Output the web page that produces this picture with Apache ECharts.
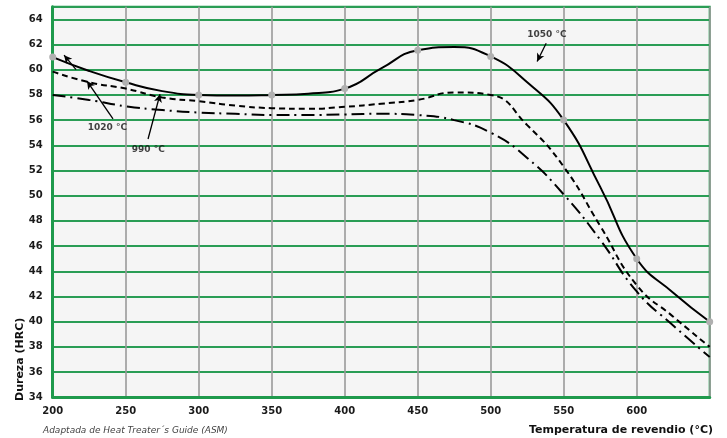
<!DOCTYPE html>
<html>
<head>
<meta charset="utf-8">
<script src="https://cdn.jsdelivr.net/npm/echarts@6/dist/echarts.min.js"></script>
<style>
html,body{margin:0;padding:0;background:#fff;}
#chart{width:727px;height:438px;}
</style>
</head>
<body>
<div id="chart"></div>
<script>
// Data
var temps = [200,225,250,275,300,325,350,375,400,425,450,475,500,525,550,575,600,625,650];
var h1050 = [61.0,59.9,59.0,58.3,58.0,57.95,58.0,58.1,58.5,60.1,61.55,61.8,61.05,59.0,56.0,50.7,45.0,42.3,40.0];
var h1020 = [59.85,59.0,58.5,57.8,57.5,57.15,56.95,56.9,57.05,57.3,57.6,58.2,58.0,55.6,52.3,47.6,42.9,40.4,38.0];
var h990  = [58.0,57.6,57.1,56.8,56.6,56.5,56.4,56.4,56.45,56.5,56.4,56.0,55.0,53.0,50.1,46.5,42.4,39.7,37.2];
var markerTemps = [200,250,300,350,400,450,500,550,600,650];
var xTicks = [200,250,300,350,400,450,500,550,600];
var yTicks = [34,36,38,40,42,44,46,48,50,52,54,56,58,60,62,64];

// Annotation labels and arrows (in data units)
var annLabels = [
  {name:'1050 °C', value:[538.5,62.8]},
  {name:'1020 °C', value:[237.5,55.4]},
  {name:'990 °C',  value:[265.5,53.65]}
];
var annArrows = [
  [[538.0,62.1],[531.8,60.65]],
  [[241.3,56.1],[223.5,59.1]],
  [[216.0,60.0],[207.8,61.15]],
  [[265.3,54.5],[273.5,58.05]]
];

var GREEN = '#1f9a4c';
function pairs(vals){ return temps.map(function(t,i){ return [t, vals[i]]; }); }

var data1050 = temps.map(function(t,i){
  var isMark = markerTemps.indexOf(t) >= 0;
  return {value:[t,h1050[i]], symbol: isMark ? 'circle' : 'none'};
});

var chart = echarts.init(document.getElementById('chart'), null, {renderer:'canvas'});
chart.setOption({
  animation:false,
  backgroundColor:'#ffffff',
  textStyle:{fontFamily:'DejaVu Sans'},
  grid:{left:52.7, right:17.3, top:6.7, bottom:40.7, show:true, backgroundColor:'#f5f5f5', borderColor:GREEN, borderWidth:2},
  xAxis:{
    type:'value', min:200, max:650, interval:50,
    axisLine:{show:true, lineStyle:{color:GREEN, width:3}},
    axisTick:{show:false},
    axisLabel:{fontSize:10, fontWeight:'bold', color:'#1a1a1a', margin:9, fontFamily:'DejaVu Sans',
      formatter:function(v){ return xTicks.indexOf(v) >= 0 ? String(v) : ''; }},
    splitLine:{show:true, lineStyle:{color:'#9a9a9a', width:1.6}}
  },
  yAxis:{
    type:'value', min:34, max:65, interval:2,
    axisLine:{show:true, lineStyle:{color:GREEN, width:3}},
    axisTick:{show:false},
    axisLabel:{fontSize:10, fontWeight:'bold', color:'#1a1a1a', margin:10, fontFamily:'DejaVu Sans',
      formatter:function(v){ return yTicks.indexOf(v) >= 0 ? String(v) : ''; }},
    splitLine:{show:true, lineStyle:{color:'#2a9d55', width:1.8}}
  },
  series:[
    {
      name:'990 °C', type:'line', smooth:0.5, symbol:'none', z:3,
      data:pairs(h990),
      lineStyle:{color:'#000', width:2, type:[13,5,2,5]}
    },
    {
      name:'1020 °C', type:'line', smooth:0.5, symbol:'none', z:3,
      data:pairs(h1020),
      lineStyle:{color:'#000', width:2, type:[6,4]}
    },
    {
      name:'1050 °C', type:'line', smooth:0.5, z:4,
      symbolSize:7, showAllSymbol:true,
      itemStyle:{color:'#b0b0b0'},
      data:data1050,
      lineStyle:{color:'#000', width:2},
      markLine:{
        silent:true, symbol:['none','arrow'], symbolSize:[6,8],
        label:{show:false},
        lineStyle:{color:'#000', width:1.3, type:'solid'},
        data:annArrows.map(function(a){ return [{coord:a[0]},{coord:a[1]}]; })
      }
    },
    {
      type:'scatter', symbolSize:0.1, z:6, silent:true,
      data:annLabels,
      label:{show:true, position:'inside', formatter:'{b}', fontSize:9, fontWeight:'bold', color:'#111', fontFamily:'DejaVu Sans'}
    }
  ],
  graphic:[
    {type:'text', x:20, y:401, rotation:Math.PI/2,
      style:{text:'Dureza (HRC)', font:'bold 11px "DejaVu Sans"', fill:'#111', align:'left', verticalAlign:'middle'}},
    {type:'text', x:713, y:430,
      style:{text:'Temperatura de revendio (°C)', font:'bold 11px "DejaVu Sans"', fill:'#111', align:'right', verticalAlign:'middle'}},
    {type:'text', x:43, y:431,
      style:{text:'Adaptada de Heat Treater´s Guide (ASM)', font:'italic 9px "DejaVu Sans"', fill:'#444', align:'left', verticalAlign:'middle'}}
  ]
});
</script>
</body>
</html>
